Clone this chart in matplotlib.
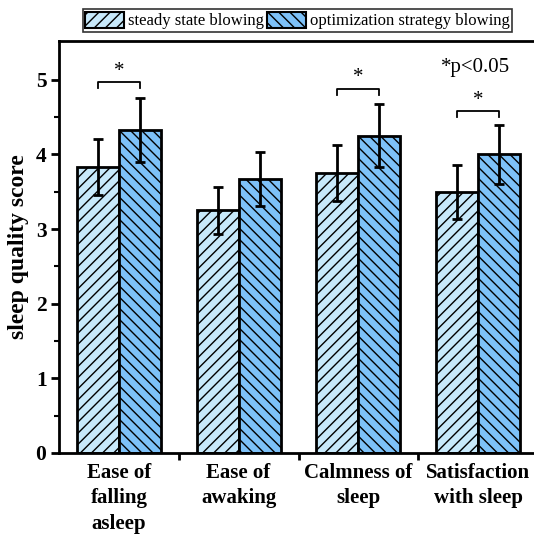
import matplotlib
matplotlib.use("Agg")
import matplotlib.pyplot as plt
import numpy as np
from matplotlib.patches import Patch

plt.rcParams['font.family'] = ['Liberation Serif', 'DejaVu Serif']
plt.rcParams['hatch.linewidth'] = 1.0

categories = ["Ease of\nfalling\nasleep", "Ease of\nawaking", "Calmness of\nsleep", "Satisfaction\nwith sleep"]
series_names = ["steady state blowing", "optimization strategy blowing"]
steady = [3.83, 3.25, 3.75, 3.50]
steady_err = [0.38, 0.32, 0.37, 0.36]
optim = [4.33, 3.67, 4.25, 4.00]
optim_err = [0.43, 0.36, 0.42, 0.40]
sig_groups = [0, 2, 3]
sig_heights = [4.97, 4.88, 4.58]

light = '#C7E9FB'
dark = '#7DC1F8'

fig = plt.figure(figsize=(5.34, 5.36), dpi=100)
ax = fig.add_axes([59/534, 1-453/536, 479/534, 412/536])

x = np.arange(len(categories))
w = 0.35
ax.bar(x - w/2, steady, w, color=light, edgecolor='black', linewidth=2, hatch='///')
ax.bar(x + w/2, optim, w, color=dark, edgecolor='black', linewidth=2, hatch='\\\\\\')
ax.errorbar(x - w/2, steady, yerr=steady_err, fmt='none', ecolor='black', elinewidth=2, capsize=3.5, capthick=2)
ax.errorbar(x + w/2, optim, yerr=optim_err, fmt='none', ecolor='black', elinewidth=2, capsize=3.5, capthick=2)

for g, h in zip(sig_groups, sig_heights):
    ax.plot([g - w/2, g - w/2, g + w/2, g + w/2], [h - 0.08, h, h, h - 0.08], color='black', lw=1.3)
    ax.text(g, h + 0.02, '*', ha='center', va='bottom', fontsize=15)

ax.text(2.98, 5.17, '*p<0.05', ha='center', va='center', fontsize=15)

ax.set_xlim(-0.5, 3.5)
ax.set_ylim(0, 5.52)
ax.set_yticks([0, 1, 2, 3, 4, 5])
ax.set_yticks(np.arange(0.5, 5.5, 1.0), minor=True)
ax.set_xticks(x)
ax.set_xticklabels(categories, fontsize=15, fontweight='bold', linespacing=1.38)
ax.set_xticks([0.5, 1.5, 2.5], minor=True)
ax.tick_params(axis='x', which='major', length=0, pad=7)
ax.tick_params(axis='x', which='minor', length=5, width=2, direction='out')
ax.tick_params(axis='y', which='major', length=6, width=2, labelsize=15.5, pad=3)
ax.tick_params(axis='y', which='minor', length=3.5, width=1.5)
for lab in ax.get_yticklabels():
    lab.set_fontweight('bold')
ax.set_ylabel('sleep quality score', fontsize=17, fontweight='bold', labelpad=5)
for s in ['left', 'bottom', 'top', 'right']:
    ax.spines[s].set_linewidth(2)

handles = [Patch(facecolor=light, edgecolor='black', hatch='///', linewidth=1.5),
           Patch(facecolor=dark, edgecolor='black', hatch='\\\\\\', linewidth=1.5)]
leg = fig.legend(handles, series_names, loc='center', bbox_to_anchor=(297.5/534, 1-20.5/536), ncol=2,
                 fontsize=12, frameon=True, fancybox=False, edgecolor='black', handlelength=2.3,
                 handleheight=1.1, columnspacing=0.2, handletextpad=0.25, borderpad=0.15, borderaxespad=0)
leg.get_frame().set_linewidth(1.2)

fig.savefig('out.png', dpi=100)
